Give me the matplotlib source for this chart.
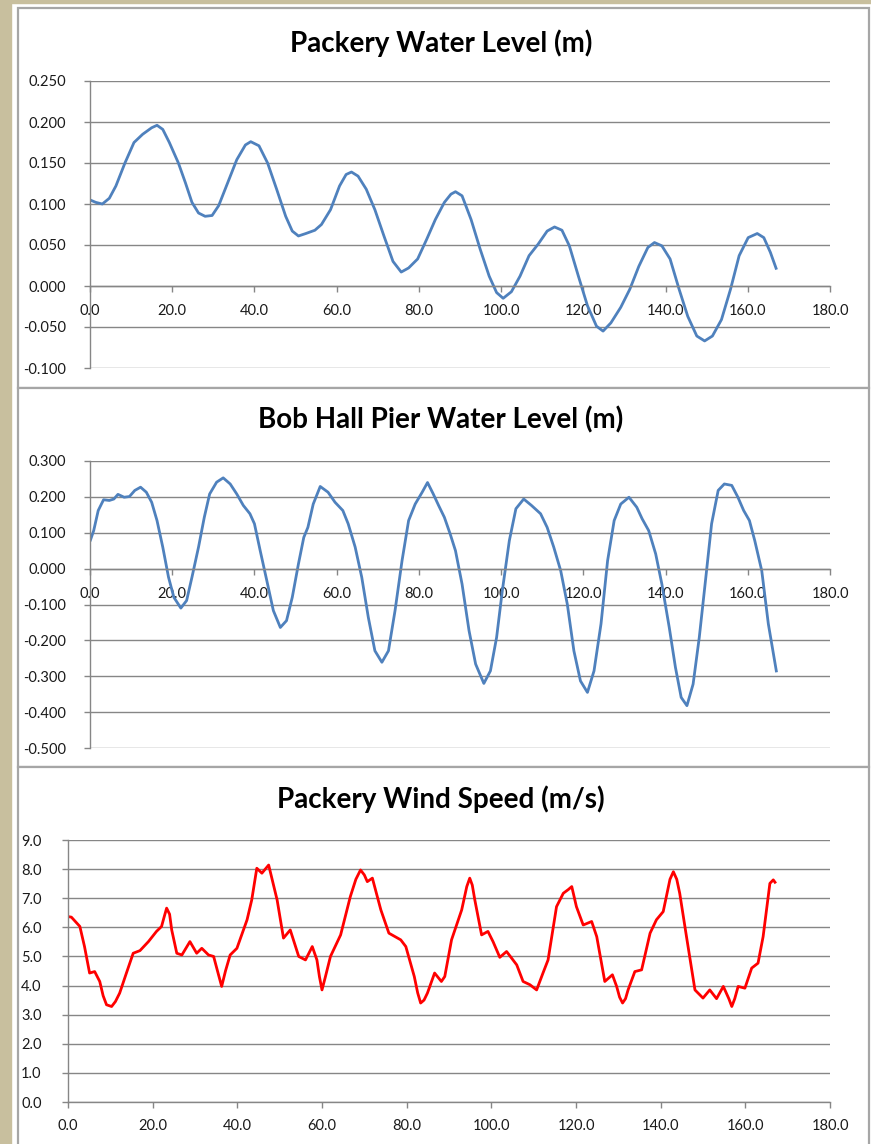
import matplotlib
matplotlib.use("Agg")
import matplotlib.pyplot as plt
from matplotlib.patches import Rectangle

# ---------------- data ----------------
packery_wl_hours = [0, 1.4, 3.0, 4.7, 6.3, 8.5, 10.7, 12.8, 15, 16.3, 17.7, 19.3, 21.5, 23.2,
                    24.8, 26.4, 28, 29.7, 31.3, 33.5, 35.7, 37.8, 39.1, 41.1, 43.2, 45.4, 47.6,
                    49.2, 50.7, 52.5, 54.7, 56.3, 58.5, 60.7, 62.3, 63.6, 65.2, 67.2, 69.3,
                    71.5, 73.7, 75.7, 77.5, 79.7, 81.9, 84, 86.2, 87.8, 88.9, 90.5, 92.7, 94.9,
                    97.1, 98.9, 100.5, 102.5, 104.6, 106.8, 109, 111.2, 113, 114.8, 116.6,
                    118.8, 121, 123.2, 124.8, 126.7, 129.1, 131.3, 133.5, 135.7, 137.3, 139.1,
                    141.1, 143.3, 145.4, 147.6, 149.5, 151.4, 153.6, 155.8, 157.9, 160.1,
                    162.3, 163.9, 165.5, 167]
packery_wl = [0.105, 0.102, 0.100, 0.107, 0.122, 0.150, 0.175, 0.185, 0.193, 0.196, 0.191,
              0.175, 0.150, 0.126, 0.102, 0.089, 0.085, 0.086, 0.098, 0.126, 0.154, 0.172,
              0.176, 0.171, 0.150, 0.118, 0.085, 0.067, 0.061, 0.064, 0.068, 0.075, 0.093,
              0.122, 0.136, 0.139, 0.134, 0.118, 0.093, 0.061, 0.030, 0.017, 0.022, 0.033,
              0.057, 0.081, 0.102, 0.112, 0.115, 0.110, 0.081, 0.045, 0.012, -0.008, -0.015,
              -0.007, 0.012, 0.037, 0.051, 0.067, 0.072, 0.068, 0.049, 0.012, -0.024, -0.049,
              -0.055, -0.045, -0.026, -0.004, 0.024, 0.047, 0.053, 0.049, 0.033, -0.004,
              -0.037, -0.061, -0.067, -0.061, -0.041, -0.004, 0.037, 0.059, 0.064, 0.059,
              0.041, 0.020]

bobhall_hours = [0, 0.9, 2, 3.3, 4.7, 5.8, 6.8, 8.3, 9.6, 10.9, 12.3, 13.7, 15, 16.3, 17.7,
                 19.1, 20.4, 22.1, 23.5, 24.8, 26.4, 27.8, 29.1, 30.8, 32.4, 34.1, 35.7, 37.3,
                 38.9, 40, 41.4, 43, 44.6, 46.3, 47.8, 49.2, 50.7, 52, 53, 54.3, 56, 57.9,
                 59.6, 61.5, 62.8, 64.5, 66.1, 67.7, 69.3, 71, 72.6, 74.2, 75.9, 77.5, 79.1,
                 80.8, 82.1, 83.5, 84.8, 86.2, 87.6, 88.9, 90.5, 92.2, 93.8, 95.8, 97.4, 98.9,
                 100.3, 102, 103.6, 105.5, 107.4, 109.6, 111.2, 112.8, 114.5, 116.1, 117.7,
                 119.3, 121, 122.6, 124.3, 125.9, 127.5, 129.1, 131.1, 133, 134.3, 135.9,
                 137.6, 139.1, 140.9, 142.4, 143.8, 145.2, 146.7, 148.2, 149.8, 151.2, 152.8,
                 154.3, 156.1, 157.6, 159, 160.4, 161.7, 163.4, 165, 167]
bobhall_wl = [0.076, 0.106, 0.162, 0.192, 0.190, 0.194, 0.207, 0.199, 0.201, 0.218, 0.227,
              0.213, 0.185, 0.134, 0.060, -0.024, -0.080, -0.110, -0.089, -0.024, 0.060, 0.143,
              0.208, 0.241, 0.253, 0.236, 0.208, 0.176, 0.153, 0.125, 0.050, -0.033, -0.117,
              -0.164, -0.145, -0.080, 0.013, 0.087, 0.115, 0.180, 0.229, 0.213, 0.185, 0.162,
              0.125, 0.060, -0.024, -0.136, -0.229, -0.261, -0.229, -0.117, 0.022, 0.134,
              0.180, 0.213, 0.240, 0.208, 0.176, 0.143, 0.097, 0.050, -0.043, -0.173, -0.266,
              -0.320, -0.285, -0.192, -0.061, 0.078, 0.167, 0.194, 0.176, 0.153, 0.115, 0.060,
              -0.006, -0.099, -0.229, -0.313, -0.345, -0.285, -0.154, 0.022, 0.134, 0.180,
              0.199, 0.171, 0.139, 0.106, 0.041, -0.043, -0.164, -0.275, -0.359, -0.382,
              -0.322, -0.192, -0.024, 0.125, 0.218, 0.236, 0.232, 0.199, 0.162, 0.134, 0.078,
              -0.006, -0.154, -0.289]

wind_hours = [0, 0.8, 2.8, 3.9, 5.1, 6.3, 7.5, 8.3, 9.1, 10.3, 11.2, 12.2, 13.8, 15.4, 17, 19,
              20.9, 22.1, 22.7, 23.3, 24.0, 24.5, 25.7, 26.9, 28.8, 30.4, 31.6, 33.2, 34.4,
              35.5, 36.3, 37.2, 38.3, 39.9, 42.3, 43.4, 44.6, 45.8, 47.4, 49.4, 50.9, 52.5,
              54.5, 56.1, 57.7, 58.8, 59.4, 60, 60.8, 62, 64.4, 66.7, 68.0, 69.1, 70.0, 70.7,
              71.9, 73.9, 75.8, 78.6, 79.8, 81.8, 82.6, 83.3, 84.1, 84.9, 86.6, 88.2, 89,
              90.6, 93, 94.2, 94.9, 95.5, 96.1, 97.7, 99.2, 100.4, 102, 103.6, 106, 107.5,
              109.1, 110.7, 112.2, 113.4, 115.4, 117, 118.2, 119, 120.1, 121.7, 123.7, 124.9,
              126.8, 128.6, 129.6, 130.3, 131, 131.7, 132.3, 133.9, 135.5, 137.5, 139, 140.6,
              142.2, 143, 143.8, 144.5, 146.1, 148.1, 150, 151.6, 153.2, 154.8, 156.1, 156.8,
              157.5, 158.3, 159.9, 161.5, 163, 164.2, 165.8, 166.6, 167.2]
wind_speed = [6.37, 6.35, 6.03, 5.34, 4.43, 4.48, 4.14, 3.65, 3.34, 3.28, 3.45, 3.74, 4.43,
              5.11, 5.20, 5.51, 5.86, 6.03, 6.35, 6.66, 6.45, 5.91, 5.11, 5.05, 5.51, 5.11,
              5.28, 5.05, 5.00, 4.40, 3.97, 4.50, 5.05, 5.28, 6.26, 6.94, 8.03, 7.86, 8.14,
              6.94, 5.63, 5.91, 5.00, 4.88, 5.34, 4.88, 4.30, 3.85, 4.30, 5.00, 5.74, 7.06,
              7.65, 7.97, 7.80, 7.57, 7.69, 6.60, 5.80, 5.57, 5.34, 4.31, 3.75, 3.40, 3.50,
              3.74, 4.43, 4.14, 4.31, 5.57, 6.60, 7.40, 7.69, 7.45, 6.94, 5.74, 5.86, 5.51,
              4.97, 5.17, 4.71, 4.14, 4.03, 3.85, 4.43, 4.88, 6.71, 7.17, 7.30, 7.40, 6.71,
              6.08, 6.20, 5.68, 4.14, 4.37, 3.97, 3.60, 3.40, 3.55, 3.85, 4.48, 4.54, 5.80,
              6.26, 6.54, 7.65, 7.91, 7.65, 7.17, 5.68, 3.85, 3.57, 3.85, 3.55, 3.97, 3.55,
              3.28, 3.55, 3.97, 3.91, 4.60, 4.77, 5.68, 7.51, 7.63, 7.51]

titles = ["Packery Water Level (m)", "Bob Hall Pier Water Level (m)", "Packery Wind Speed (m/s)"]
x_ticks = [0, 20, 40, 60, 80, 100, 120, 140, 160, 180]
pwl_yticks = [-0.100, -0.050, 0.000, 0.050, 0.100, 0.150, 0.200, 0.250]
bh_yticks = [-0.500, -0.400, -0.300, -0.200, -0.100, 0.000, 0.100, 0.200, 0.300]
ws_yticks = [0.0, 1.0, 2.0, 3.0, 4.0, 5.0, 6.0, 7.0, 8.0, 9.0]

# ---------------- layout ----------------
W, H = 871, 1144
fig = plt.figure(figsize=(W / 100, H / 100), dpi=100)
fig.patch.set_facecolor("white")
plt.rcParams["font.family"] = ["Lato", "DejaVu Sans"]

def fx(px):
    return px / W

def fy(py):
    return 1 - py / H

beige = "#C8BF9E"
fig.patches.append(Rectangle((0, 0), fx(11), 1, transform=fig.transFigure, color=beige, zorder=-3))
fig.patches.append(Rectangle((0, fy(3)), 1, fy(0) - fy(3), transform=fig.transFigure, color=beige, zorder=-3))

panel_bounds = [(8, 388), (388, 767), (767, 1160)]
for top, bot in panel_bounds:
    fig.patches.append(Rectangle((fx(18), fy(bot)), fx(869) - fx(18), fy(top) - fy(bot),
                                 transform=fig.transFigure, facecolor="white",
                                 edgecolor="#A6A6A6", linewidth=1.6, zorder=-2))

grid_c = "#868686"
label_c = "#1A1A1A"

def setup(ax, yticks, fmt, ylim, ypad, xpad):
    ax.set_facecolor("none")
    ax.set_xlim(0, 180)
    ax.set_ylim(*ylim)
    for s in ["top", "right"]:
        ax.spines[s].set_visible(False)
    ax.spines["left"].set_color(grid_c)
    ax.spines["bottom"].set_color(grid_c)
    ax.spines["left"].set_linewidth(1.0)
    ax.spines["bottom"].set_linewidth(1.0)
    ax.spines["bottom"].set_position(("data", 0))
    ax.set_xticks(x_ticks)
    ax.set_xticklabels([f"{v:.1f}" for v in x_ticks])
    ax.set_yticks(yticks)
    ax.set_yticklabels([fmt.format(v) for v in yticks])
    ax.yaxis.grid(True, color=grid_c, linewidth=1.0)
    ax.set_axisbelow(True)
    ax.tick_params(axis="y", direction="out", length=4, width=1, color=grid_c,
                   labelsize=10.5, labelcolor=label_c, pad=ypad)
    ax.tick_params(axis="x", direction="out", length=4, width=1, color=grid_c,
                   labelsize=10.5, labelcolor=label_c, pad=xpad)

line_kw = dict(linewidth=2.0, solid_capstyle="butt", solid_joinstyle="round")

# panel 1
ax1 = fig.add_axes([fx(90), fy(368), fx(830) - fx(90), fy(81) - fy(368)])
setup(ax1, pwl_yticks, "{:.3f}", (-0.100, 0.250), 13, 9)
ax1.plot(packery_wl_hours, packery_wl, color="#4F81BD", **line_kw)

# panel 2
ax2 = fig.add_axes([fx(90), fy(748), fx(830) - fx(90), fy(461) - fy(748)])
setup(ax2, bh_yticks, "{:.3f}", (-0.500, 0.300), 13, 9)
ax2.plot(bobhall_hours, bobhall_wl, color="#4F81BD", **line_kw)

# panel 3
ax3 = fig.add_axes([fx(68), fy(1102), fx(830) - fx(68), fy(840) - fy(1102)])
setup(ax3, ws_yticks, "{:.1f}", (0.0, 9.0), 15, 8)
ax3.plot(wind_hours, wind_speed, color="#FF0000", **line_kw)

for title, cy in zip(titles, [43, 420, 799]):
    fig.text(fx(441), fy(cy), title, ha="center", va="center", fontsize=20,
             fontweight="bold", color="black")

fig.savefig("out.png", dpi=100, facecolor=fig.get_facecolor())
